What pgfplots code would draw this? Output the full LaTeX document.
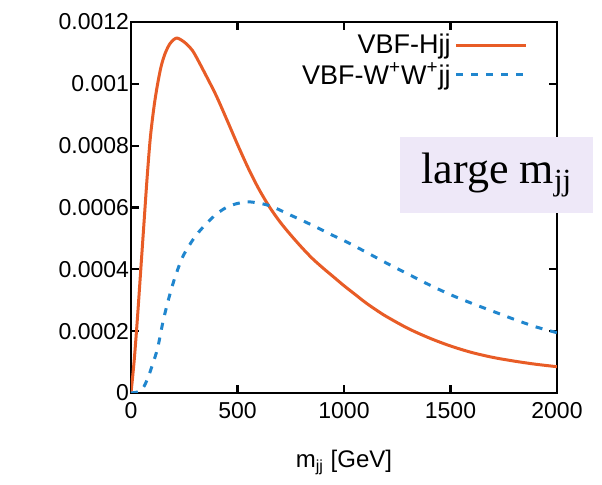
\documentclass[border=0pt]{standalone}
\usepackage{pgfplots}
\pgfplotsset{compat=1.18}
\usepackage{fontspec}
\setmainfont{Liberation Sans}
\newfontfamily\slidefont{Liberation Serif}
\definecolor{hjjorange}{RGB}{232,92,38}
\definecolor{wwblue}{RGB}{32,134,206}
\definecolor{boxlav}{RGB}{238,232,248}

\begin{document}
\begin{tikzpicture}
\useasboundingbox (-65.5pt,-46pt) rectangle (235.5pt,196.5pt);
\begin{axis}[
  at={(0,0)}, anchor=south west,
  scale only axis,
  width=213pt, height=185.5pt,
  xmin=0, xmax=2000,
  ymin=0, ymax=0.0012,
  xtick={0,500,1000,1500,2000},
  ytick={0,0.0002,0.0004,0.0006,0.0008,0.001,0.0012},
  yticklabels={0,0.0002,0.0004,0.0006,0.0008,0.001,0.0012},
  scaled y ticks=false,
  scaled x ticks=false,
  /pgf/number format/assume math mode=true,
  xticklabel style={/pgf/number format/1000 sep={}, yshift=-1pt},
  yticklabel style={xshift=2.5pt},
  tick label style={font=\fontsize{11.5}{13}\selectfont},
  label style={font=\fontsize{12}{14}\selectfont},
  xlabel={m\textsubscript{jj} [GeV]},
  xlabel style={yshift=-9pt},
  tick align=inside,
  major tick length=4pt,
  axis line style={line width=1.3pt},
  every tick/.style={black, line width=1.1pt},
  legend style={at={(rel axis cs:0.946,0.99)}, anchor=north east, draw=none, fill=none,
    font=\fontsize{13.5}{15}\selectfont, row sep=-1pt},
  legend cell align=right,
  legend plot pos=right,
  legend image code/.code={\draw[#1] (0pt,0pt) -- (35pt,0pt);},
]
\addplot[color=hjjorange, line width=1.5pt, smooth, tension=0.5] coordinates {
(0,0) (15,0.000105) (30,0.00024) (45,0.00039) (60,0.00054) (75,0.00069)
(90,0.00082) (105,0.00091) (120,0.00098) (140,0.001052) (160,0.001098)
(185,0.001132) (215,0.001148) (250,0.001135) (280,0.001115) (300,0.001095)
(350,0.00103) (400,0.000962) (450,0.000884) (500,0.000804) (550,0.000728)
(600,0.00066) (650,0.000602) (700,0.000553) (750,0.000511) (800,0.000472)
(850,0.000436) (900,0.000405) (950,0.000376) (1000,0.000347) (1050,0.00032)
(1100,0.000293) (1150,0.000269) (1200,0.000247) (1300,0.000209) (1400,0.000178)
(1500,0.000152) (1600,0.000131) (1700,0.000115) (1800,0.000103) (1900,0.000093)
(2000,0.000085)};
\addlegendentry{VBF-Hjj}
\addplot[color=wwblue, line width=1.5pt, dash pattern=on 3.5pt off 4pt, smooth, tension=0.5] coordinates {
(0,0) (40,0.000005) (60,0.00002) (80,0.00005) (100,0.00009) (125,0.000145)
(150,0.00023) (175,0.0003) (200,0.00036) (225,0.00041) (250,0.00045)
(300,0.000505) (350,0.000545) (400,0.000578) (450,0.000601) (500,0.000613)
(560,0.000618) (650,0.000606) (750,0.000575) (850,0.000543) (950,0.000509)
(1000,0.000493) (1100,0.000457) (1200,0.00042) (1300,0.000385) (1400,0.00035)
(1500,0.000318) (1600,0.00029) (1700,0.000264) (1800,0.000238) (1900,0.000214)
(2000,0.000195)};
\addlegendentry{VBF-W\textsuperscript{+}W\textsuperscript{+}jj}
\end{axis}
\fill[boxlav] (134.5pt,90pt) rectangle (231pt,128pt);
\node[font=\slidefont\fontsize{22}{25}\selectfont] at (183pt,109pt) {large m\textsubscript{jj}};
\end{tikzpicture}
\end{document}
